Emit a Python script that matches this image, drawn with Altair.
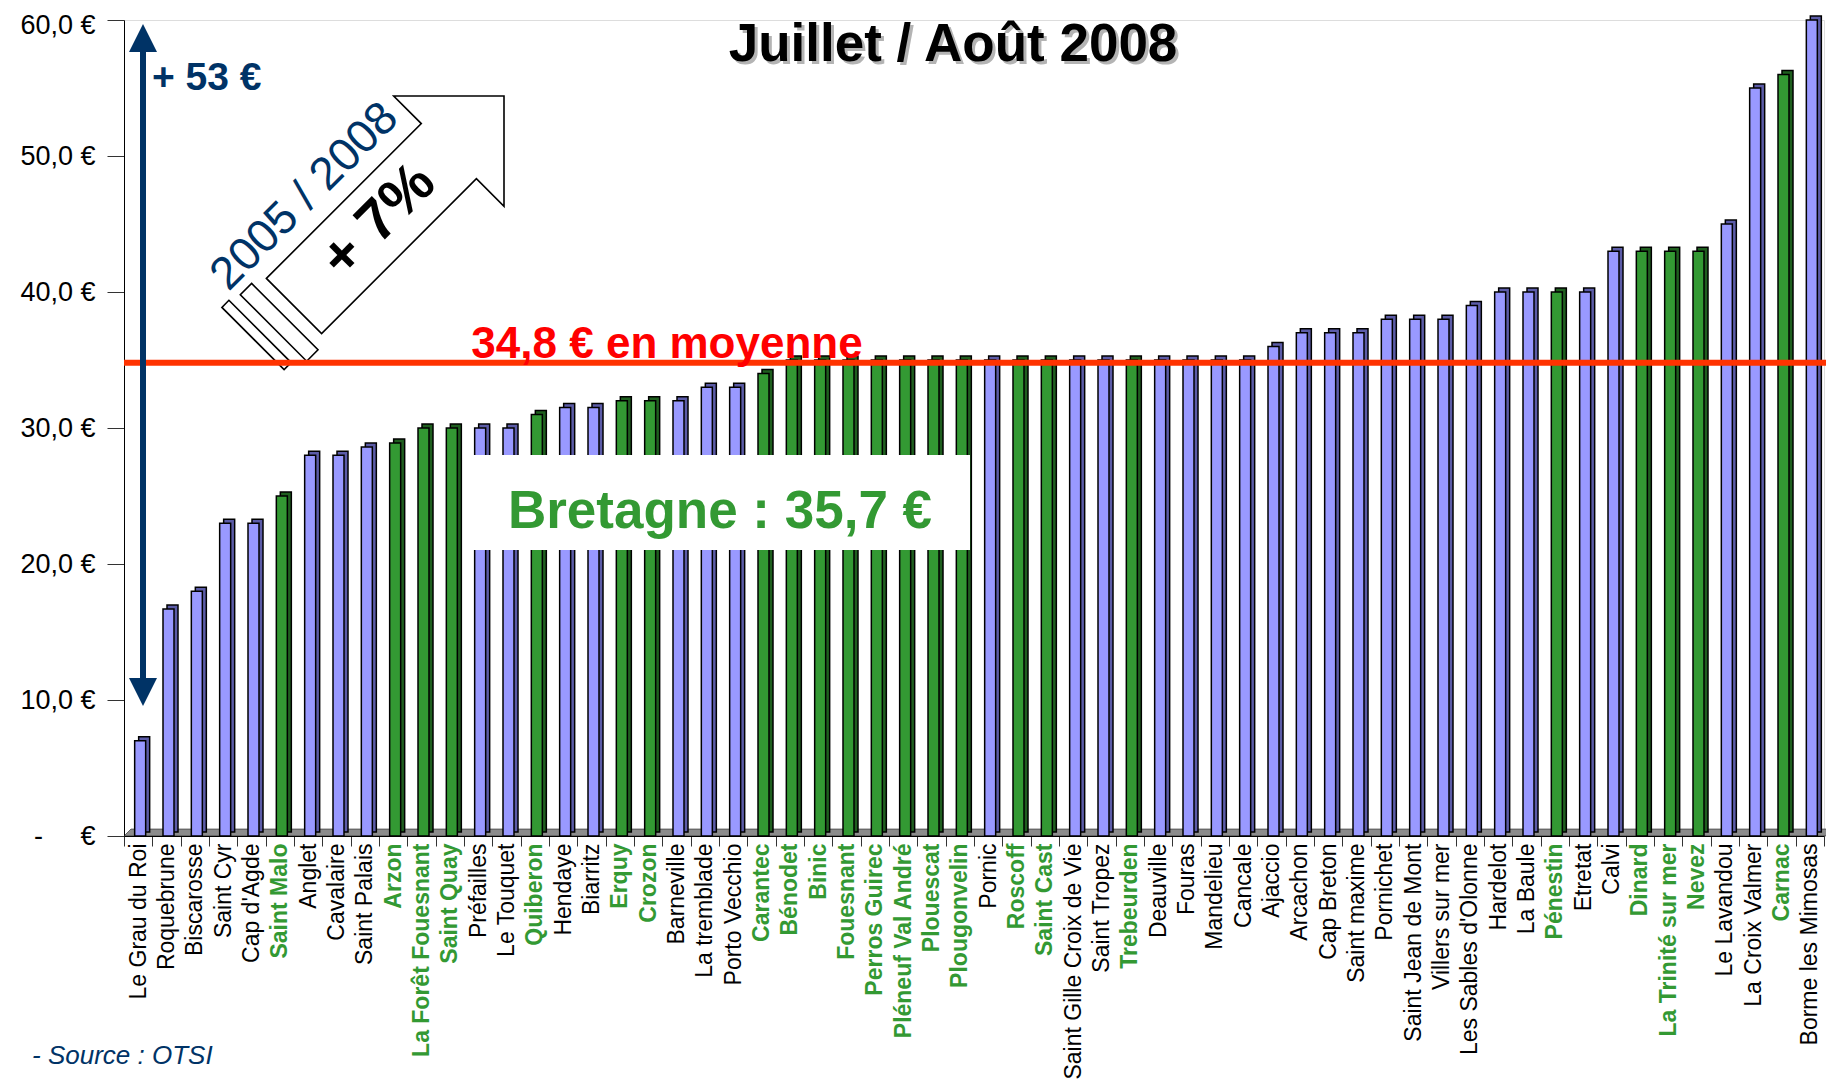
import json
import math
import altair as alt
import pandas as pd

# ---------------- data ----------------
towns = ["Le Grau du Roi", "Roquebrune", "Biscarosse", "Saint Cyr", "Cap d'Agde", "Saint Malo",
         "Anglet", "Cavalaire", "Saint Palais", "Arzon", "La Forêt Fouesnant", "Saint Quay",
         "Préfailles", "Le Touquet", "Quiberon", "Hendaye", "Biarritz", "Erquy", "Crozon",
         "Barneville", "La tremblade", "Porto Vecchio", "Carantec", "Bénodet", "Binic",
         "Fouesnant", "Perros Guirec", "Pléneuf Val André", "Plouescat", "Plougonvelin", "Pornic",
         "Roscoff", "Saint Cast", "Saint Gille Croix de Vie", "Saint Tropez", "Trebeurden",
         "Deauville", "Fouras", "Mandelieu", "Cancale", "Ajaccio", "Arcachon", "Cap Breton",
         "Saint maxime", "Pornichet", "Saint Jean de Mont", "Villers sur mer",
         "Les Sables d'Olonne", "Hardelot", "La Baule", "Pénestin", "Etretat", "Calvi", "Dinard",
         "La Trinité sur mer", "Nevez", "Le Lavandou", "La Croix Valmer", "Carnac",
         "Borme les Mimosas"]
prices = [7, 16.7, 18, 23, 23, 25,
          28, 28, 28.6, 28.9, 30, 30,
          30, 30, 31, 31.5, 31.5, 32, 32,
          32, 33, 33, 34, 35, 35,
          35, 35, 35, 35, 35, 35,
          35, 35, 35, 35, 35,
          35, 35, 35, 35, 36, 37, 37,
          37, 38, 38, 38,
          39, 40, 40, 40, 40, 43, 43,
          43, 43, 45, 55, 56,
          60]
bretagne = ["Saint Malo", "Arzon", "La Forêt Fouesnant", "Saint Quay", "Quiberon", "Erquy",
            "Crozon", "Carantec", "Bénodet", "Binic", "Fouesnant", "Perros Guirec",
            "Pléneuf Val André", "Plouescat", "Plougonvelin", "Roscoff", "Saint Cast",
            "Trebeurden", "Pénestin", "Dinard", "La Trinité sur mer", "Nevez", "Carnac"]
y_ticks = [0, 10, 20, 30, 40, 50, 60]
mean_value = 34.8

GREEN = "#339933"
BLUE = "#9999ff"
df = pd.DataFrame({"town": towns, "price": prices})
df["face"] = [GREEN if t in bretagne else BLUE for t in towns]
df["side"] = ["#1f5f1f" if t in bretagne else "#5c5ca8" for t in towns]

SANS = "Liberation Sans, Arial, sans-serif"
NB = "\u00a0"
zero_label = "-" + NB * 5 + "€"
is_bzh = "indexof(" + json.dumps(bretagne, ensure_ascii=False) + ", datum.value) >= 0"

W, H = 1700, 816
DY = -2  # shift of annotations so that they keep their page position

x = alt.X("town:N", sort=towns, title=None,
          scale=alt.Scale(paddingInner=0, paddingOuter=0),
          axis=alt.Axis(labelAngle=270, labelFont=SANS, labelFontSize=23, labelLimit=400,
                        labelColor={"condition": {"test": is_bzh, "value": GREEN}, "value": "black"},
                        labelFontWeight={"condition": {"test": is_bzh, "value": "bold"}, "value": "normal"},
                        tickBand="extent", tickSize=10, tickColor="#333333", labelPadding=-3,
                        domainColor="black", domainWidth=1))
y = alt.Y("price:Q", title=None,
          scale=alt.Scale(domain=[0, 60], nice=False),
          axis=alt.Axis(values=y_ticks, grid=False, labelFont=SANS, labelFontSize=27,
                        labelExpr="datum.value == 0 ? '" + zero_label + "' : replace(format(datum.value, '.1f'), '.', ',') + ' €'",
                        labelOffset={"condition": {"test": "datum.value == 60", "value": 5}, "value": 0},
                        tickSize=17, tickColor="#333333", labelPadding=12, domainColor="black"))

base = alt.Chart(df)
back = base.mark_bar(width=11, xOffset=6, yOffset=-4, y2Offset=-4, stroke="black",
                     strokeWidth=1.5).encode(x=x, y=y, color=alt.Color("side:N", scale=None))
front = base.mark_bar(width=11, xOffset=2, stroke="black",
                      strokeWidth=1.5).encode(x=x, y=y, color=alt.Color("face:N", scale=None))

one = alt.Chart(pd.DataFrame({"k": [0]}))

# grey 3D floor
floor_path = "M0,0L7,-7L1710,-7L1703,0Z"
floor = one.mark_point(shape=floor_path, size=4, filled=True, fill="#8c8c8c", stroke="black",
                       strokeWidth=0.5, opacity=1).encode(x=alt.value(0), y=alt.value(H))

# big outlined arrow at 45 degrees (annotation)
r = math.sqrt(0.5)


def pt(t, s):
    return (t * r + s * r, -t * r + s * r)


def poly(pts):
    return "M" + "L".join(f"{a:.1f},{b:.1f}" for a, b in pts) + "Z"


arrow_path = poly([pt(0, -39), pt(219, -39), pt(219, -78), pt(297, 0), pt(219, 78), pt(219, 39), pt(0, 39)])
stripes_path = (poly([pt(-14, -46), pt(-14, 48), pt(-30, 48), pt(-30, -46)]) +
                poly([pt(-42, -50), pt(-42, 38), pt(-52, 38), pt(-52, -50)]))
B0 = (170, 288 + DY)
big_arrow = one.mark_point(shape=arrow_path + stripes_path, size=4, filled=True, fill="white",
                           stroke="black", strokeWidth=1.6, opacity=1).encode(
    x=alt.value(B0[0]), y=alt.value(B0[1]))
c7 = pt(120, 0)
txt7 = one.mark_text(text="+ 7%", font=SANS, fontSize=58, fontWeight="bold", color="black",
                     angle=315, align="center", baseline="middle").encode(
    x=alt.value(B0[0] + c7[0]), y=alt.value(B0[1] + c7[1]))
cy = pt(85, -70)
txt_years = one.mark_text(text="2005 / 2008", font=SANS, fontSize=46, color="#003366",
                          angle=315, align="center", baseline="middle").encode(
    x=alt.value(B0[0] + cy[0]), y=alt.value(B0[1] + cy[1]))

# mean line
mean_rule = one.mark_rule(color="#ff3300", strokeWidth=6).encode(
    x=alt.value(0), x2=alt.value(1714), y=alt.datum(mean_value))
mean_txt = one.mark_text(text="34,8 € en moyenne", font=SANS, fontSize=44, fontWeight="bold",
                         color="#ff0000", align="center", baseline="alphabetic").encode(
    x=alt.value(543), y=alt.value(340 + DY))

# Bretagne box
bzh_box = one.mark_rect(fill="white").encode(x=alt.value(348), x2=alt.value(846),
                                             y=alt.value(437 + DY), y2=alt.value(532 + DY))
bzh_txt = one.mark_text(text="Bretagne : 35,7 €", font=SANS, fontSize=53, fontWeight="bold",
                        color=GREEN, align="center", baseline="alphabetic").encode(
    x=alt.value(596), y=alt.value(510 + DY))

# title with shadow
title_sh = one.mark_text(text="Juillet / Août 2008", font=SANS, fontSize=53, fontWeight="bold",
                         color="#b4b4b4", align="center", baseline="alphabetic").encode(
    x=alt.value(832), y=alt.value(46 + DY))
title = one.mark_text(text="Juillet / Août 2008", font=SANS, fontSize=53, fontWeight="bold",
                      color="black", align="center", baseline="alphabetic").encode(
    x=alt.value(829), y=alt.value(43 + DY))

# dark blue double arrow
NAVY = "#003366"
shaft = one.mark_rule(color=NAVY, strokeWidth=6).encode(x=alt.value(19), y=alt.value(33 + DY),
                                                        y2=alt.value(661 + DY))
head_up = one.mark_point(shape="M0,0L14,28L-14,28Z", size=4, filled=True, fill=NAVY,
                         opacity=1, strokeWidth=0).encode(x=alt.value(19), y=alt.value(6 + DY))
head_dn = one.mark_point(shape="M0,0L14,-28L-14,-28Z", size=4, filled=True, fill=NAVY,
                         opacity=1, strokeWidth=0).encode(x=alt.value(19), y=alt.value(688 + DY))
txt53 = one.mark_text(text="+ 53 €", font=SANS, fontSize=39, fontWeight="bold", color=NAVY,
                      align="left", baseline="alphabetic").encode(x=alt.value(28), y=alt.value(72 + DY))

source = one.mark_text(text="- Source : OTSI", font=SANS, fontSize=26, fontStyle="italic",
                       color=NAVY, align="left", baseline="alphabetic").encode(
    x=alt.value(-92), y=alt.value(1046 + DY))

chart = alt.layer(
    floor, back, front, big_arrow, mean_rule, txt7, txt_years, mean_txt, bzh_box, bzh_txt,
    title_sh, title, shaft, head_up, head_dn, txt53, source
).properties(
    width=W, height=H,
    autosize=alt.AutoSizeParams(type="none"),
    padding={"left": 116, "top": 12, "right": 2, "bottom": 244},
).configure_view(strokeWidth=0).configure(background="white")

chart.save("out.html", embed_options={"renderer": "svg", "actions": False})
